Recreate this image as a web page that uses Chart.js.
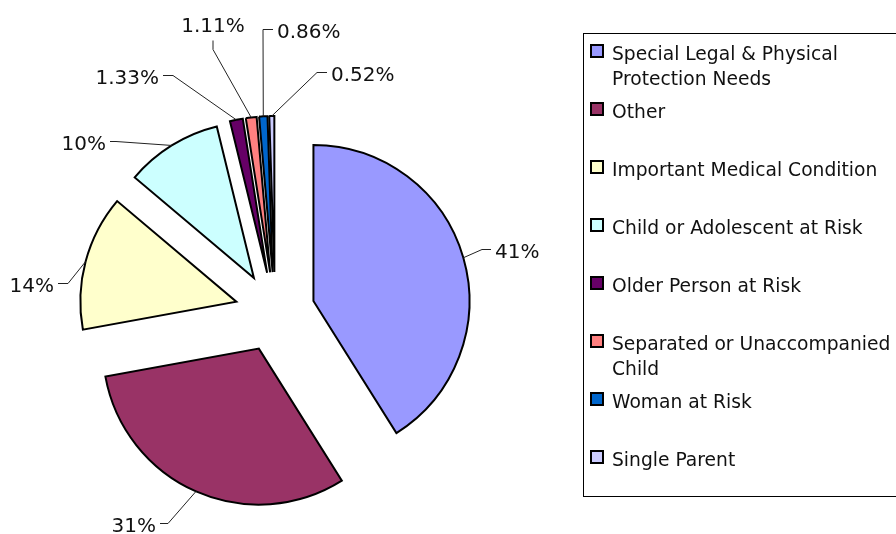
<!DOCTYPE html>
<html>
<head>
<meta charset="utf-8">
<script src="https://cdn.jsdelivr.net/npm/chart.js@4.4.0/dist/chart.umd.min.js"></script>
<style>
  html, body { margin: 0; padding: 0; background: #fff; }
</style>
</head>
<body>
<canvas id="chart" width="896" height="534"></canvas>
<script>
// Data
const categories = [
    'Special Legal & Physical Protection Needs',
    'Other',
    'Important Medical Condition',
    'Child or Adolescent at Risk',
    'Older Person at Risk',
    'Separated or Unaccompanied Child',
    'Woman at Risk',
    'Single Parent'
];
const shares = [41, 31, 14, 10, 1.33, 1.11, 0.86, 0.52];
const sliceColors = ['#9999FF', '#993366', '#FFFFCC', '#CCFFFF', '#660066', '#FF8080', '#0066CC', '#CCCCFF'];

// Where each data label sits (leader line elbow, line end, text side)
const labelLayout = [
    { elbow: [482, 249], end: [491, 249], side: 'right' },
    { elbow: [168, 523], end: [160, 523], side: 'left' },
    { elbow: [68, 283], end: [58, 283], side: 'left' },
    { elbow: [116, 141], end: [110, 141], side: 'left' },
    { elbow: [173, 75], end: [163, 75], side: 'left' },
    { elbow: [213, 49], end: [213, 40], side: 'top' },
    { elbow: [263, 29], end: [273, 29], side: 'right' },
    { elbow: [317, 72], end: [327, 72], side: 'right' }
];

const EXPLODE = 40; // px each slice is pulled out
const FONT = '"DejaVu Sans", Verdana, sans-serif';

// pull every slice out along its middle angle
const explodePlugin = {
    id: 'explode',
    afterDatasetsUpdate(chart) {
        const meta = chart.getDatasetMeta(0);
        meta.data.forEach(arc => {
            const mid = (arc.startAngle + arc.endAngle) / 2;
            arc.x += Math.cos(mid) * EXPLODE;
            arc.y += Math.sin(mid) * EXPLODE;
        });
    }
};

// percentage labels with leader lines
const labelPlugin = {
    id: 'pieLabels',
    afterDatasetsDraw(chart) {
        const ctx = chart.ctx;
        const meta = chart.getDatasetMeta(0);
        ctx.save();
        ctx.font = '20px ' + FONT;
        ctx.fillStyle = '#111';
        ctx.strokeStyle = '#222';
        ctx.lineWidth = 1;
        meta.data.forEach((arc, i) => {
            const lay = labelLayout[i];
            const mid = (arc.startAngle + arc.endAngle) / 2;
            const px = arc.x + Math.cos(mid) * arc.outerRadius;
            const py = arc.y + Math.sin(mid) * arc.outerRadius;
            ctx.beginPath();
            ctx.moveTo(px, py);
            ctx.lineTo(lay.elbow[0], lay.elbow[1] + 0.5);
            ctx.lineTo(lay.end[0], lay.end[1] + 0.5);
            ctx.stroke();
            const text = shares[i] + '%';
            ctx.textBaseline = 'alphabetic';
            if (lay.side === 'right') {
                ctx.textAlign = 'left';
                ctx.fillText(text, lay.end[0] + 4, lay.end[1] + 9);
            } else if (lay.side === 'left') {
                ctx.textAlign = 'right';
                ctx.fillText(text, lay.end[0] - 4, lay.end[1] + 9);
            } else {
                ctx.textAlign = 'center';
                ctx.fillText(text, lay.end[0], lay.end[1] - 8);
            }
        });
        ctx.restore();
    }
};

function wrapText(ctx, text, maxWidth) {
    const words = text.split(' ');
    const lines = [];
    let line = '';
    words.forEach(w => {
        const test = line ? line + ' ' + w : w;
        if (ctx.measureText(test).width > maxWidth && line) {
            lines.push(line);
            line = w;
        } else {
            line = test;
        }
    });
    lines.push(line);
    return lines;
}

// boxed legend on the right, Excel style
const legendPlugin = {
    id: 'boxLegend',
    afterDraw(chart) {
        const ctx = chart.ctx;
        ctx.save();
        ctx.strokeStyle = '#000';
        ctx.lineWidth = 1;
        ctx.strokeRect(583.5, 33.5, 400, 463);
        ctx.font = '18.7px ' + FONT;
        ctx.textAlign = 'left';
        ctx.textBaseline = 'alphabetic';
        chart.data.labels.forEach((label, i) => {
            const base = 60 + i * 58;
            ctx.fillStyle = sliceColors[i];
            ctx.fillRect(591, base - 15, 12, 12);
            ctx.strokeStyle = '#000';
            ctx.lineWidth = 2;
            ctx.strokeRect(591, base - 15, 12, 12);
            ctx.fillStyle = '#111';
            wrapText(ctx, label, 282).forEach((ln, j) => {
                ctx.fillText(ln, 612, base + j * 25);
            });
        });
        ctx.restore();
    }
};

new Chart(document.getElementById('chart'), {
    type: 'pie',
    data: {
        labels: categories,
        datasets: [{
            data: shares,
            backgroundColor: sliceColors,
            borderColor: '#000',
            borderWidth: 2,
            borderJoinStyle: 'miter'
        }]
    },
    options: {
        responsive: false,
        animation: false,
        radius: 156,
        layout: { padding: { left: 0, right: 346, top: 90, bottom: 0 } },
        plugins: {
            legend: { display: false },
            tooltip: { enabled: false }
        },
        events: []
    },
    plugins: [explodePlugin, labelPlugin, legendPlugin]
});
</script>
</body>
</html>
